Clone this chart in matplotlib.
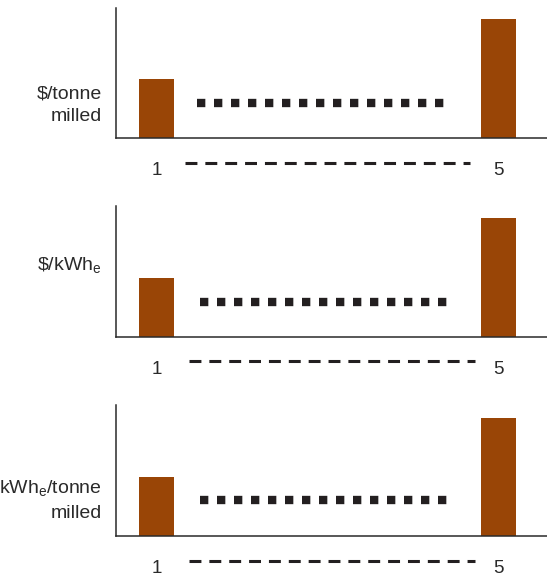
import matplotlib.pyplot as plt

# panel labels and values (y axis runs 0..1 in each panel)
y_labels = ["$/tonne\nmilled", r"\$/kWh$_\mathregular{e}$", "kWh$_\\mathregular{e}$/tonne\nmilled"]
label_y = [0.25, 0.54, 0.27]
positions = [1, 5]
bar_values = [[0.454, 0.915], [0.45, 0.908], [0.45, 0.90]]
dotted_level = [0.27, 0.267, 0.275]
dotted_span = [[1.47, 4.36], [1.51, 4.42], [1.51, 4.42]]
dashed_level = [-0.19, -0.18, -0.19]
dashed_span = [[1.33, 4.67], [1.38, 4.72], [1.38, 4.72]]

bar_color = "#994506"
dark = "#231f20"
text_color = "#2a2a2a"

plt.rcParams['font.family'] = ['Liberation Sans', 'DejaVu Sans']
plt.rcParams['mathtext.fontset'] = 'custom'
plt.rcParams['mathtext.rm'] = 'Liberation Sans'

fig = plt.figure(figsize=(5.47, 5.78), dpi=100)

# axes boxes in figure fractions: left, bottom, width, height
boxes = [
    [116 / 547, (578 - 138) / 578, 1 - 116 / 547, 130 / 578],
    [116 / 547, (578 - 337) / 578, 1 - 116 / 547, 131 / 578],
    [116 / 547, (578 - 536) / 578, 1 - 116 / 547, 131 / 578],
]

for i in range(3):
    ax = fig.add_axes(boxes[i])
    ax.bar(positions, bar_values[i], width=0.41, color=bar_color, zorder=2)

    # row of square dots between the bars
    ax.plot(dotted_span[i], [dotted_level[i]] * 2, color=dark, linewidth=6,
            linestyle=(0, (1, 1.04)), solid_capstyle='butt', dash_capstyle='butt')

    # dashed line between the tick labels, below the axis
    ax.plot(dashed_span[i], [dashed_level[i]] * 2, color=dark, linewidth=2.2,
            linestyle=(0, (3.9, 2.6)), dash_capstyle='butt', clip_on=False)

    ax.set_xlim(0.526, 5.567)
    ax.set_ylim(0, 1)
    ax.set_xticks(positions)
    ax.set_xticklabels(["1", "5"], fontsize=13.5, color=text_color)
    ax.tick_params(axis='x', length=0, pad=17)
    ax.set_yticks([])

    for side in ['top', 'right']:
        ax.spines[side].set_visible(False)
    for side in ['left', 'bottom']:
        ax.spines[side].set_color(text_color)
        ax.spines[side].set_linewidth(1.1)

    ax.text(-0.033, label_y[i], y_labels[i], transform=ax.transAxes,
            ha='right', va='center', fontsize=14, color=text_color,
            linespacing=1.45)

fig.savefig("out.png", dpi=100)
